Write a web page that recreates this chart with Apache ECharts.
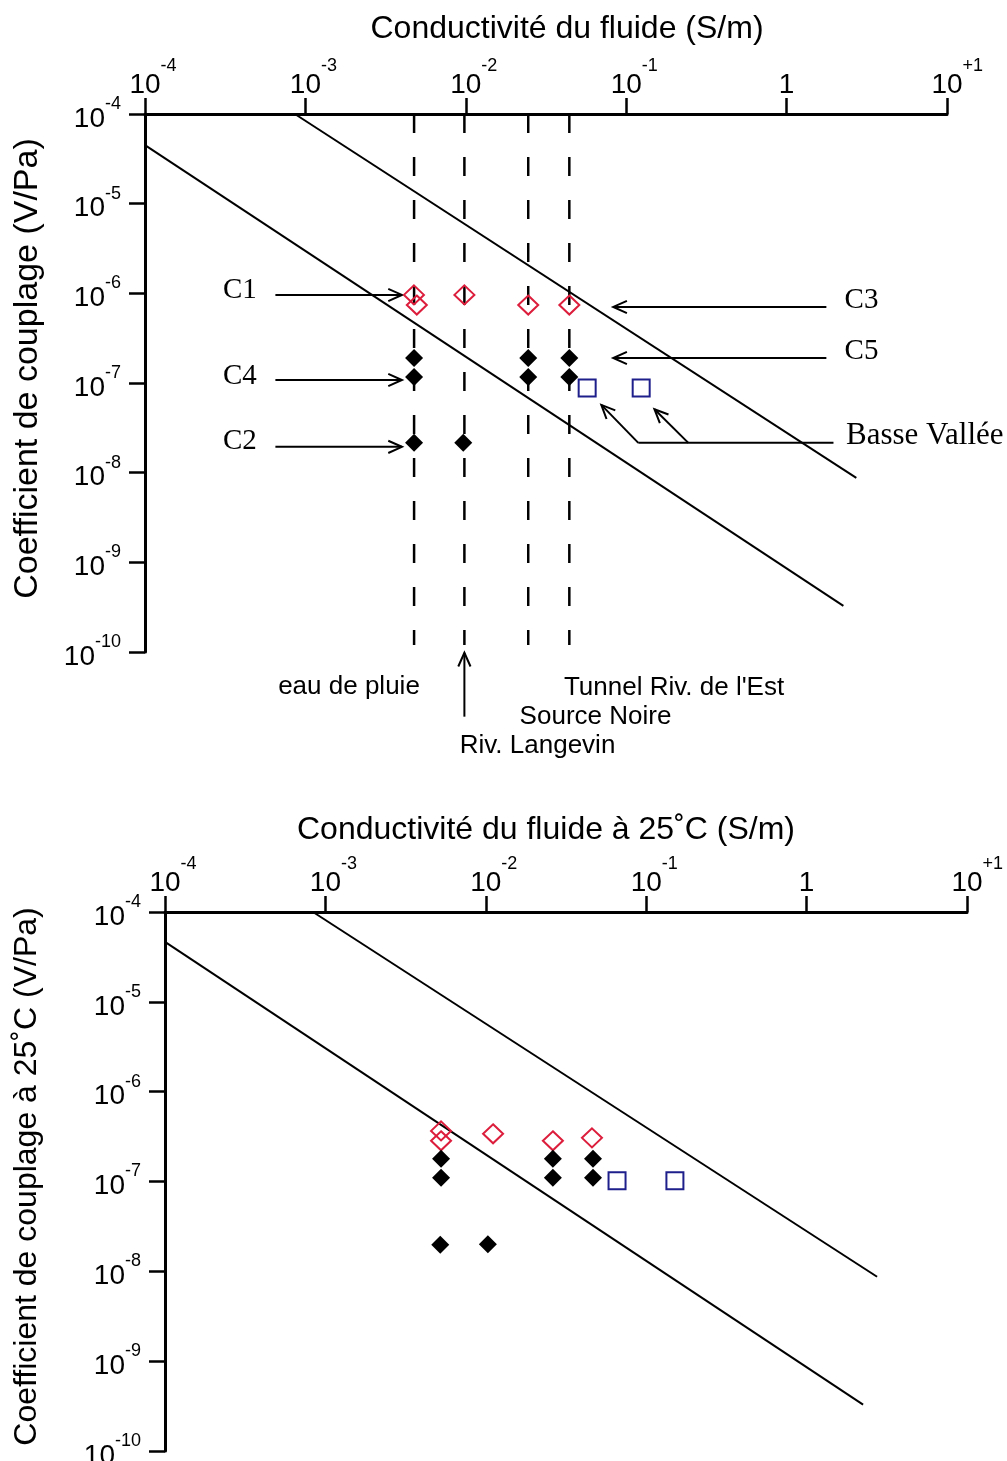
<!DOCTYPE html>
<html>
<head>
<meta charset="utf-8">
<script src="https://cdn.jsdelivr.net/npm/echarts@6.0.0/dist/echarts.min.js"></script>
<style>
  html, body { margin: 0; padding: 0; background: #fff; }
  #main { width: 1007px; height: 1461px; }
</style>
</head>
<body>
<div id="main"></div>
<script>
// ---- data, top panel (conductivité du fluide) ----
const redX1 = [4.75e-3, 4.95e-3, 9.8e-3, 0.0245, 0.0442]
const redY1 = [9.6e-7, 7.4e-7, 9.6e-7, 7.4e-7, 7.4e-7]
const blackX1 = [4.76e-3, 4.76e-3, 0.0245, 0.0245, 0.0442, 0.0442, 4.76e-3, 9.64e-3]
const blackY1 = [1.9e-7, 1.17e-7, 1.9e-7, 1.17e-7, 1.9e-7, 1.17e-7, 2.15e-8, 2.15e-8]
const blueX1 = [0.0571, 0.124]
const blueY1 = [8.8e-8, 8.8e-8]
// two bounding lines: [x start, y start, x end, y end]
const bounds1 = [
  [8.6e-4, 1e-4, 2.72, 8.75e-9],
  [1e-4, 4.5e-5, 2.26, 3.27e-10]
]
// sampling sites (vertical dashed lines)
const siteX = [4.76e-3, 9.8e-3, 0.0245, 0.0442]
const siteYTop = 1e-4
const siteYBottom = 1.2e-10

// ---- data, bottom panel (à 25˚C) ----
const redX2 = [5.26e-3, 5.26e-3, 0.0111, 0.0262, 0.0459]
const redY2 = [3.66e-7, 2.84e-7, 3.4e-7, 2.84e-7, 3.06e-7]
const blackX2 = [5.26e-3, 5.26e-3, 0.0262, 0.0262, 0.0466, 0.0466, 5.2e-3, 0.0103]
const blackY2 = [1.79e-7, 1.1e-7, 1.79e-7, 1.1e-7, 1.79e-7, 1.1e-7, 1.98e-8, 2.0e-8]
const blueX2 = [0.0658, 0.151]
const blueY2 = [1.02e-7, 1.02e-7]
const bounds2 = [
  [8.37e-4, 1e-4, 2.75, 8.7e-9],
  [1e-4, 4.64e-5, 2.25, 3.28e-10]
]

// ---- annotations (top panel), in data coordinates ----
// [x1, y1, x2, y2, arrowhead]
const arrows = [
  [6.5e-4, 9.6e-7, 4.0e-3, 9.6e-7, 1],
  [6.5e-4, 1.08e-7, 4.0e-3, 1.08e-7, 1],
  [6.5e-4, 1.94e-8, 4.0e-3, 1.94e-8, 1],
  [1.77, 7.05e-7, 0.083, 7.05e-7, 1],
  [1.77, 1.9e-7, 0.083, 1.9e-7, 1],
  [1.96, 2.15e-8, 0.119, 2.15e-8, 0],
  [0.119, 2.15e-8, 0.070, 5.7e-8, 1],
  [0.244, 2.15e-8, 0.150, 5.1e-8, 1],
  [9.8e-3, 1.9e-11, 9.8e-3, 9.8e-11, 1]
]
const serifNotes = [
  [3.9e-4, 1.09e-6, 'C1'],
  [3.9e-4, 1.17e-7, 'C4'],
  [3.9e-4, 2.26e-8, 'C2'],
  [2.93, 8.4e-7, 'C3'],
  [2.93, 2.28e-7, 'C5']
]
const serifNotesLeft = [
  [2.33, 2.57e-8, 'Basse Vallée']
]
const siteNotes = [
  [1.87e-3, 4.1e-11, 'eau de pluie']
]
const siteNotesLeft = [
  [0.0406, 4.0e-11, "Tunnel Riv. de l'Est"],
  [0.0215, 1.9e-11, 'Source Noire'],
  [9.1e-3, 9.0e-12, 'Riv. Langevin']
]

const SANS = 'Liberation Sans, Arial, sans-serif'
const SERIF = 'Liberation Serif, Times New Roman, serif'
const RED = '#dc1e3c'
const BLUE = '#1f1f8c'

const zip = (xs, ys) => xs.map((x, i) => [x, ys[i]])

const xLabel = (v) => {
  const e = Math.round(Math.log10(v))
  if (e === 0) return '{b|1}'
  const sup = e > 0 ? '+' + e : String(e)
  return '{h|' + sup + '}{b|10}{s|' + sup + '}'
}
const yLabel = (v) => '{b|10}{s|' + Math.round(Math.log10(v)) + '}'

// "10" sits at the bottom of a tall line, the exponent is pinned to its top
const richX = {
  b: { fontFamily: SANS, fontSize: 28, lineHeight: 42, verticalAlign: 'bottom', color: '#000' },
  s: { fontFamily: SANS, fontSize: 18, lineHeight: 18, verticalAlign: 'top', color: '#000' },
  h: { fontFamily: SANS, fontSize: 18, lineHeight: 18, verticalAlign: 'top', color: 'transparent' }
}
const richY = {
  b: { fontFamily: SANS, fontSize: 28, lineHeight: 38, verticalAlign: 'bottom', color: '#000' },
  s: { fontFamily: SANS, fontSize: 18, lineHeight: 18, verticalAlign: 'top', color: '#000' }
}

const makeX = (gi, name, gap, pad) => ({
  type: 'log', logBase: 10, gridIndex: gi, position: 'top', min: 1e-4, max: 10,
  name, nameLocation: 'middle', nameGap: gap,
  nameTextStyle: { fontFamily: SANS, fontSize: 32, color: '#000', padding: pad },
  axisLine: { show: true, onZero: false, lineStyle: { color: '#000', width: 3 } },
  axisTick: { show: true, length: 16, lineStyle: { color: '#000', width: 2.5 } },
  axisLabel: { margin: 15, formatter: xLabel, rich: richX },
  splitLine: { show: false },
  minorTick: { show: false },
  minorSplitLine: { show: false }
})

const makeY = (gi, name, size, gap, pad) => ({
  type: 'log', logBase: 10, gridIndex: gi, position: 'left', min: 1e-10, max: 1e-4,
  name, nameLocation: 'middle', nameGap: gap,
  nameTextStyle: { fontFamily: SANS, fontSize: size, color: '#000', padding: pad },
  axisLine: { show: true, onZero: false, lineStyle: { color: '#000', width: 3 } },
  axisTick: { show: true, length: 16, lineStyle: { color: '#000', width: 2.5 } },
  axisLabel: { margin: 24, formatter: yLabel, rich: richY },
  splitLine: { show: false },
  minorTick: { show: false },
  minorSplitLine: { show: false }
})

const boundSeries = (gi, b) => ({
  type: 'line', xAxisIndex: gi, yAxisIndex: gi, silent: true, symbol: 'none', z: 3,
  data: [[b[0], b[1]], [b[2], b[3]]],
  lineStyle: { color: '#000', width: 2 }
})

const markerSeries = (gi, xs, ys, kind) => {
  const styles = {
    red: { symbol: 'diamond', symbolSize: [20, 19], itemStyle: { color: 'rgba(0,0,0,0)', borderColor: RED, borderWidth: 2, opacity: 1 } },
    black: { symbol: 'diamond', symbolSize: [18, 18], itemStyle: { color: '#000', opacity: 1 } },
    blue: { symbol: 'rect', symbolSize: [17, 17], itemStyle: { color: 'rgba(0,0,0,0)', borderColor: BLUE, borderWidth: 2, opacity: 1 } }
  }
  return Object.assign({ type: 'scatter', xAxisIndex: gi, yAxisIndex: gi, z: 5, silent: true, data: zip(xs, ys) }, styles[kind])
}

const noteSeries = (notes, font, size, pos) => ({
  type: 'scatter', xAxisIndex: 0, yAxisIndex: 0, silent: true, clip: false, z: 6,
  symbolSize: 1, itemStyle: { color: 'rgba(0,0,0,0)', opacity: 1 },
  data: notes.map(n => ({ value: [n[0], n[1]], name: n[2] })),
  label: {
    show: true, position: pos, distance: 0, formatter: '{b}',
    fontFamily: font, fontSize: size, color: '#000', verticalAlign: 'middle'
  }
})

const renderArrow = (params, api) => {
  const a = api.coord([api.value(0), api.value(1)])
  const b = api.coord([api.value(2), api.value(3)])
  const children = [{
    type: 'line', shape: { x1: a[0], y1: a[1], x2: b[0], y2: b[1] },
    style: { stroke: '#000', lineWidth: 2 }
  }]
  if (api.value(4)) {
    const ang = Math.atan2(b[1] - a[1], b[0] - a[0])
    const L = 15, w = 0.42
    children.push({
      type: 'polyline',
      shape: { points: [
        [b[0] - L * Math.cos(ang - w), b[1] - L * Math.sin(ang - w)],
        [b[0], b[1]],
        [b[0] - L * Math.cos(ang + w), b[1] - L * Math.sin(ang + w)]
      ] },
      style: { stroke: '#000', fill: null, lineWidth: 2 }
    })
  }
  return { type: 'group', children }
}

const series = []
bounds1.forEach(b => series.push(boundSeries(0, b)))
bounds2.forEach(b => series.push(boundSeries(1, b)))
siteX.forEach(x => series.push({
  type: 'line', xAxisIndex: 0, yAxisIndex: 0, silent: true, symbol: 'none', z: 2,
  data: [[x, siteYTop], [x, siteYBottom]],
  lineStyle: { color: '#000', width: 2.5, type: [19, 24] }
}))
series.push(markerSeries(0, redX1, redY1, 'red'))
series.push(markerSeries(0, blackX1, blackY1, 'black'))
series.push(markerSeries(0, blueX1, blueY1, 'blue'))
series.push(markerSeries(1, redX2, redY2, 'red'))
series.push(markerSeries(1, blackX2, blackY2, 'black'))
series.push(markerSeries(1, blueX2, blueY2, 'blue'))
series.push({
  type: 'custom', xAxisIndex: 0, yAxisIndex: 0, silent: true, clip: false, z: 4,
  renderItem: renderArrow, data: arrows
})
series.push(noteSeries(serifNotes, SERIF, 29, 'inside'))
series.push(noteSeries(serifNotesLeft, SERIF, 31, 'right'))
series.push(noteSeries(siteNotes, SANS, 26, 'inside'))
series.push(noteSeries(siteNotesLeft, SANS, 26, 'right'))

const chart = echarts.init(document.getElementById('main'))
chart.setOption({
  animation: false,
  backgroundColor: '#fff',
  grid: [
    { left: 145, top: 114, width: 802, height: 538, outerBoundsMode: 'none' },
    { left: 165, top: 912, width: 802, height: 539, outerBoundsMode: 'none' }
  ],
  xAxis: [
    makeX(0, 'Conductivité du fluide (S/m)', 69, [0, 0, 0, 42]),
    makeX(1, 'Conductivité du fluide à 25˚C (S/m)', 66, [0, 40, 0, 0])
  ],
  yAxis: [
    makeY(0, 'Coefficient de couplage (V/Pa)', 34, 100, [0, 0, 0, 29]),
    makeY(1, 'Coefficient de couplage à 25˚C (V/Pa)', 32, 122, [0, 0, 0, 10])
  ],
  series
})
</script>
</body>
</html>
